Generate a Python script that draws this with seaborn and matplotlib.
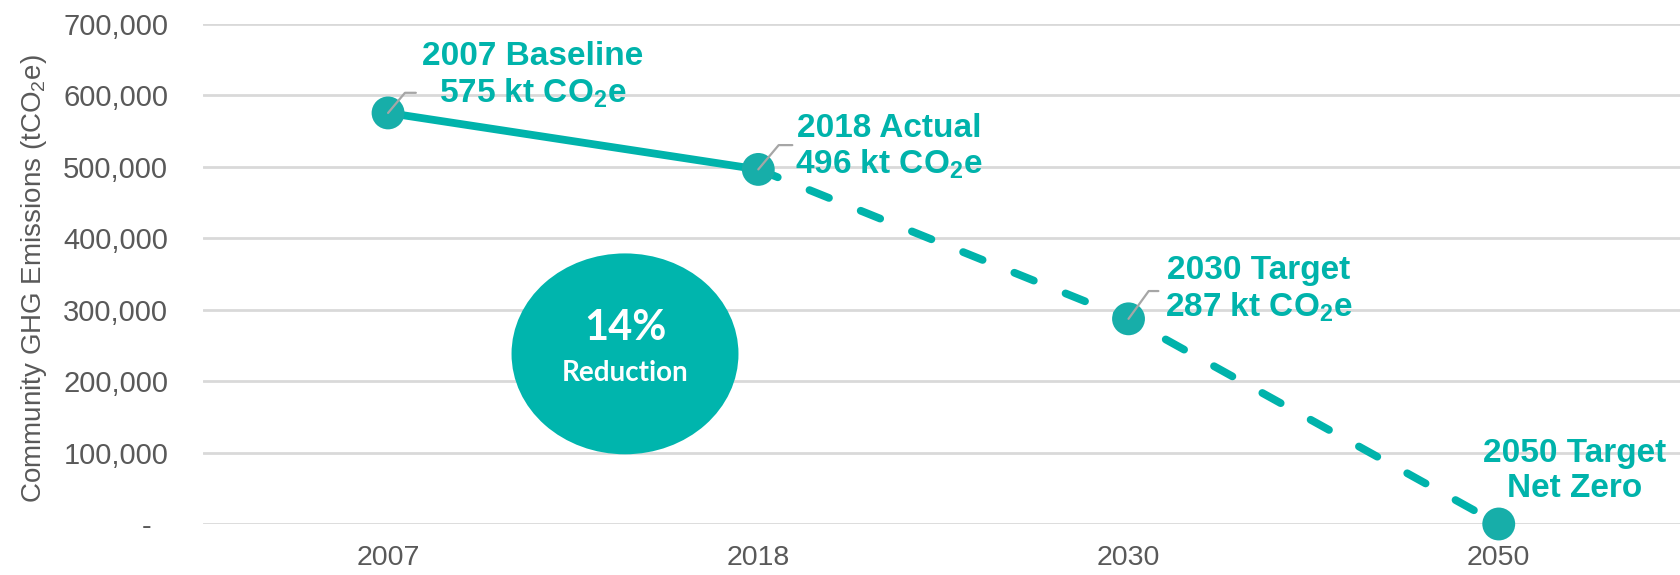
import matplotlib
matplotlib.use("Agg")
import matplotlib.pyplot as plt
import seaborn as sns
import pandas as pd
from matplotlib.patches import Ellipse
from matplotlib.ticker import FuncFormatter

# data
years = ["2007", "2018", "2030", "2050"]
emissions = [575000, 496000, 287000, 0]
actual_years = ["2007", "2018"]
actual_vals = [575000, 496000]
target_years = ["2018", "2030", "2050"]
target_vals = [496000, 287000, 0]
labels = [
    "2007 Baseline\n575 kt CO$_\\mathbf{2}$e",
    "2018 Actual\n496 kt CO$_\\mathbf{2}$e",
    "2030 Target\n287 kt CO$_\\mathbf{2}$e",
    "2050 Target\nNet Zero",
]
reduction_pct = "14%"
reduction_word = "Reduction"

teal = "#00B3AB"
grey = "#595959"

sns.set_theme(style="white")
plt.rcParams["font.family"] = ["Liberation Sans", "DejaVu Sans"]
plt.rcParams["mathtext.fontset"] = "custom"
plt.rcParams["mathtext.rm"] = "Liberation Sans"
plt.rcParams["mathtext.bf"] = "Liberation Sans:bold"

fig = plt.figure(figsize=(16.8, 5.75), dpi=100)
ax = fig.add_axes([0.1208, 0.0887, 0.8815, 0.8703])

df_act = pd.DataFrame({"year": actual_years, "val": actual_vals})
df_tgt = pd.DataFrame({"year": target_years, "val": target_vals})
df_all = pd.DataFrame({"year": years, "val": emissions})

sns.lineplot(data=df_act, x="year", y="val", color=teal, lw=5.6, ax=ax,
             solid_capstyle="round", zorder=3)
sns.lineplot(data=df_tgt, x="year", y="val", color=teal, lw=5.6, ax=ax,
             linestyle=(0, (2.7, 4.4)), dash_capstyle="round", zorder=3)
sns.scatterplot(data=df_all, x="year", y="val", color="#17AEA9", s=560,
                edgecolor="none", ax=ax, zorder=4, clip_on=False)

# leader lines (offset points from each marker)
leaders = [(20, 14.5, 50), (24.5, 17.5, 50), (21.5, 20, 54)]
for i, (dx, dy, ang) in enumerate(leaders):
    ax.annotate("", xy=(i, emissions[i]), xytext=(dx, dy), textcoords="offset points",
                arrowprops=dict(arrowstyle="-", color="#A6A6A6", lw=1.6,
                                shrinkA=0, shrinkB=0,
                                connectionstyle=f"angle,angleA=0,angleB={ang},rad=0"),
                zorder=5)

# data labels
offsets = [(104, 27), (94, 16), (93.5, 21), (54.5, 38)]
for i, (lab, (dx, dy)) in enumerate(zip(labels, offsets)):
    ax.annotate(lab, xy=(i, emissions[i]), xytext=(dx, dy), textcoords="offset points",
                ha="center", va="center", color=teal, fontsize=24, fontweight="bold",
                linespacing=1.15, zorder=6, annotation_clip=False)

# reduction bubble
ax.add_patch(Ellipse((0.64, 238000), 0.613, 281000, facecolor="#00B5AD",
                     edgecolor="none", zorder=2))
ax.text(0.64, 274000, reduction_pct, ha="center", va="center", color="white",
        fontsize=30, fontweight="bold", family="Lato", zorder=3)
ax.text(0.64, 211000, reduction_word, ha="center", va="center", color="white",
        fontsize=20, fontweight="bold", family="Lato", zorder=3)

ax.set_xlim(-0.5, 3.5)
ax.set_ylim(0, 700000)
ax.set_yticks(range(0, 700001, 100000))
ax.yaxis.set_major_formatter(FuncFormatter(lambda v, p: "-  " if v == 0 else f"{int(v):,}"))
ax.grid(axis="y", color="#D9D9D9", lw=2)
ax.set_axisbelow(True)
for s in ax.spines.values():
    s.set_visible(False)
ax.tick_params(axis="y", length=0, pad=25, labelsize=21, labelcolor=grey)
ax.tick_params(axis="x", length=0, pad=15, labelsize=20.5, labelcolor=grey)
ax.set_xlabel("")
ax.set_ylabel("Community GHG Emissions (tCO$_2$e)", fontsize=20, color=grey)
ax.yaxis.set_label_coords(-0.104, 0.49)

fig.savefig("out.png", dpi=100)
